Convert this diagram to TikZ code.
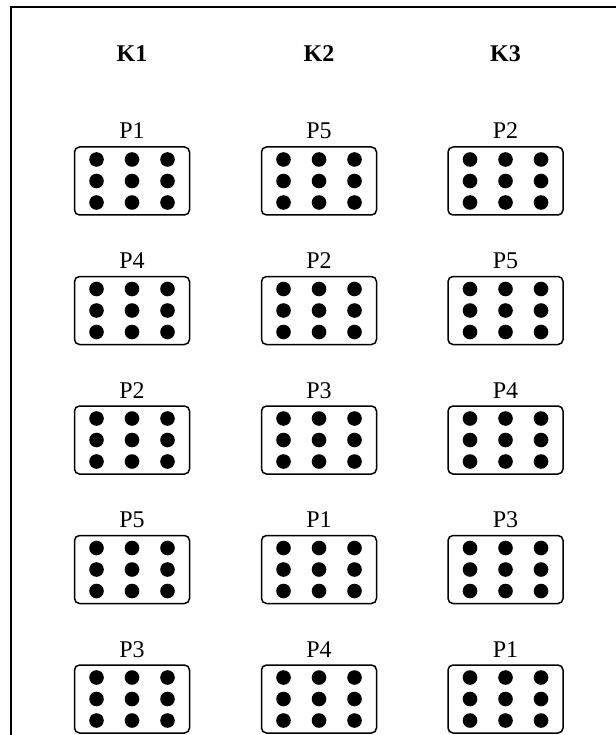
\documentclass[tikz,border=0pt]{standalone}
\usepackage{fontspec}
\setmainfont{Liberation Serif}
\begin{document}
\begin{tikzpicture}[x=1pt,y=-1pt,
  tray/.style={draw, line width=1.5pt, rounded corners=5pt, minimum width=115pt, minimum height=68pt, inner sep=0pt},
  plabel/.style={font=\fontsize{24}{24}\selectfont, anchor=base, inner sep=0pt},
  klabel/.style={font=\fontsize{24}{24}\selectfont\bfseries, anchor=base, inner sep=0pt},
  frame/.style={line width=2pt},
  dot/.style={fill=black}]
\useasboundingbox (0,0) rectangle (615,735);
\draw[frame] (11,740) -- (11,7) -- (620,7);
\foreach \c/\x/\k/\labs in {1/132/K1/{P1,P4,P2,P5,P3}, 2/319/K2/{P5,P2,P3,P1,P4}, 3/505.5/K3/{P2,P5,P4,P3,P1}}{
  \node[klabel] (k\c) at (\x,62) {\k};
  \foreach \lab [count=\r] in \labs {
    \pgfmathsetmacro{\yc}{181+(\r-1)*129.5}
    \node[tray] (b\c\r) at (\x,\yc) {};
    \node[plabel] (l\c\r) at (\x,\yc-42) {\lab};
    \foreach \dx in {-35.5,0,35.5}
      \foreach \dy in {-21.5,0,21.5}
        \fill[dot] (b\c\r.center) ++(\dx,\dy) circle (7.3pt);
  }
}
\end{tikzpicture}
\end{document}
